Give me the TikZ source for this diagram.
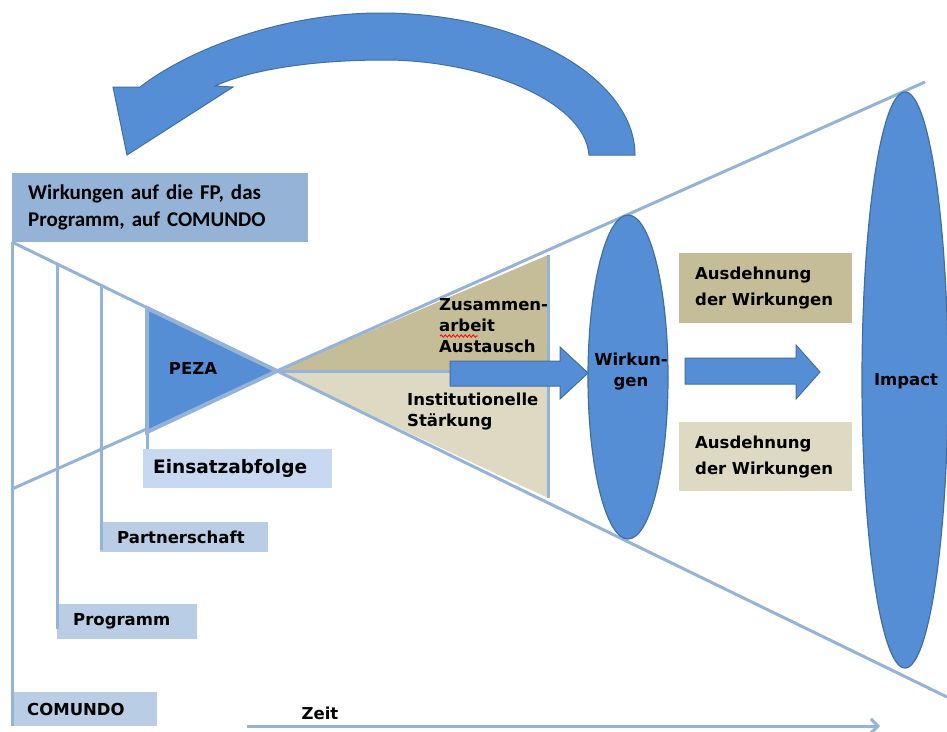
\documentclass[tikz,border=0pt]{standalone}
\usepackage{fontspec}
\setmainfont{DejaVu Sans}
\newfontfamily\calfont{Carlito}
\usetikzlibrary{shapes.geometric,arrows.meta,decorations.pathmorphing}
\definecolor{bfill}{HTML}{558ED5}
\definecolor{bdraw}{HTML}{41709F}
\definecolor{lline}{HTML}{95B3D7}
\definecolor{lbox}{HTML}{B9CDE5}
\definecolor{ebox}{HTML}{C6D9F1}
\definecolor{tanA}{HTML}{C4BD97}
\definecolor{tanB}{HTML}{DDD9C3}
\begin{document}
\begin{tikzpicture}[x=1pt,y=-1pt,
  lab/.style={font=\fontsize{16.5}{21}\selectfont\bfseries, inner sep=0pt, align=left, text=black},
  bl/.style={draw=lline, line width=3pt},
  tagbox/.style={anchor=north west, align=left, inner ysep=0pt, font=\fontsize{16.5}{21}\selectfont\bfseries, text=black},
  blob/.style={ellipse, fill=bfill, draw=bdraw, line width=1.2pt, inner sep=0pt},
  blockarrow/.style={fill=bfill, draw=bdraw, line width=1pt}]
\useasboundingbox (0,0) rectangle (947,731);
\fill[white] (0,0) rectangle (947,731);

% key points of the funnel
\coordinate (ul) at (12,242);
\coordinate (ll) at (12,489);
\coordinate (ur) at (925,82);
\coordinate (lr) at (947,697);
\coordinate (c) at (277,371);
\coordinate (tt) at (548,255);
\coordinate (tm) at (548,371);
\coordinate (tb) at (548,498);

% tan triangles
\fill[tanA] (c) -- (tt) -- (tm) -- cycle;
\fill[tanB] (c) -- (tm) -- (tb) -- cycle;
\draw[bl] (c) -- (tm);
\draw[bl] (tt) -- (tb);

% funnel lines
\draw[bl] (ul) -- (lr);
\draw[bl] (ll) -- (ur);

% PEZA triangle
\coordinate (pt) at (147,308);
\coordinate (pb) at (147,432);
\draw[fill=bfill, draw=lline, line width=4pt, line join=miter] (pt) -- (c) -- (pb) -- cycle;
\node[lab] (peza) at (193,368) {PEZA};

% boxes
\node[tagbox, fill=lline, text width=264pt, inner xsep=16pt, minimum height=69pt, font=\calfont\fontsize{21}{27}\selectfont\bfseries] (top) at (12,173) {Wirkungen auf die FP, das\\Programm, auf COMUNDO};
\node[tagbox, fill=ebox, text width=169pt, inner xsep=10pt, minimum height=39pt, font=\fontsize{18.5}{21}\selectfont\bfseries] (eins) at (143,449) {Einsatzabfolge};
\node[tagbox, fill=lbox, text width=134pt, inner xsep=17pt, minimum height=30pt] (part) at (100,522) {Partnerschaft};
\node[tagbox, fill=lbox, text width=108pt, inner xsep=16pt, minimum height=35pt] (prog) at (57,604) {Programm};
\node[tagbox, fill=lbox, text width=115pt, inner xsep=15pt, minimum height=34pt] (comu) at (12,692) {COMUNDO};
\node[tagbox, fill=tanA, text width=141pt, inner xsep=16pt, minimum height=70pt, font=\fontsize{16.5}{26}\selectfont\bfseries] (aus1) at (679,253) {Ausdehnung\\der Wirkungen};
\node[tagbox, fill=tanB, text width=141pt, inner xsep=16pt, minimum height=69pt, font=\fontsize{16.5}{26}\selectfont\bfseries] (aus2) at (679,422) {Ausdehnung\\der Wirkungen};

% vertical bracket lines
\coordinate (v2t) at (57,264);
\coordinate (v2b) at (57,629);
\coordinate (v3t) at (101,285);
\coordinate (v3b) at (101,550);
\draw[bl] (top.south west) -- (comu.south west);
\draw[bl] (v2t) -- (v2b);
\draw[bl] (v3t) -- (v3b);
\draw[bl] (pb) -- (eins.north west -| pb);

% tan area texts
\node[lab, anchor=west] (zus) at (439,326) {Zusammen-\\arbeit\\Austausch};
\draw[red, line width=0.8pt, decorate, decoration={snake, amplitude=1.2pt, segment length=4pt}] (440,336) -- (478,336);
\node[lab, anchor=west] (inst) at (407,412) {Institutionelle\\Stärkung};

% ellipses
\node[blob, minimum width=80pt, minimum height=324pt] (wirk) at (628,377) {};
\node[lab, align=center] (wirkt) at (631,372) {Wirkun-\\gen};
\node[blob, minimum width=86pt, minimum height=576pt] (imp) at (905,380) {};
\node[lab] (impt) at (906,381) {Impact};

% block arrows
\draw[blockarrow] (450,361) -- (560,361) -- (560,347) -- (588,373) -- (560,399) -- (560,386) -- (450,386) -- cycle;
\draw[blockarrow] (685,358) -- (796,358) -- (796,345) -- (820,372) -- (796,399) -- (796,384) -- (685,384) -- cycle;

% curved return arrow
\draw[blockarrow]
  (635,155) .. controls (635,80) and (525,13) .. (380,13)
  .. controls (290,13) and (195,45) .. (140,87)
  -- (113,87) -- (127,155) -- (233,87) -- (215,86)
  .. controls (250,70) and (310,60) .. (385,60)
  .. controls (480,60) and (585,100) .. (589,155) -- cycle;

% time axis
\coordinate (z0) at (247,726);
\coordinate (z1) at (880,726);
\draw[lline, line width=3pt, -{Straight Barb[length=7pt,width=14pt]}] (z0) -- (z1);
\node[lab] (zeit) at (320,713) {Zeit};
\end{tikzpicture}
\end{document}
